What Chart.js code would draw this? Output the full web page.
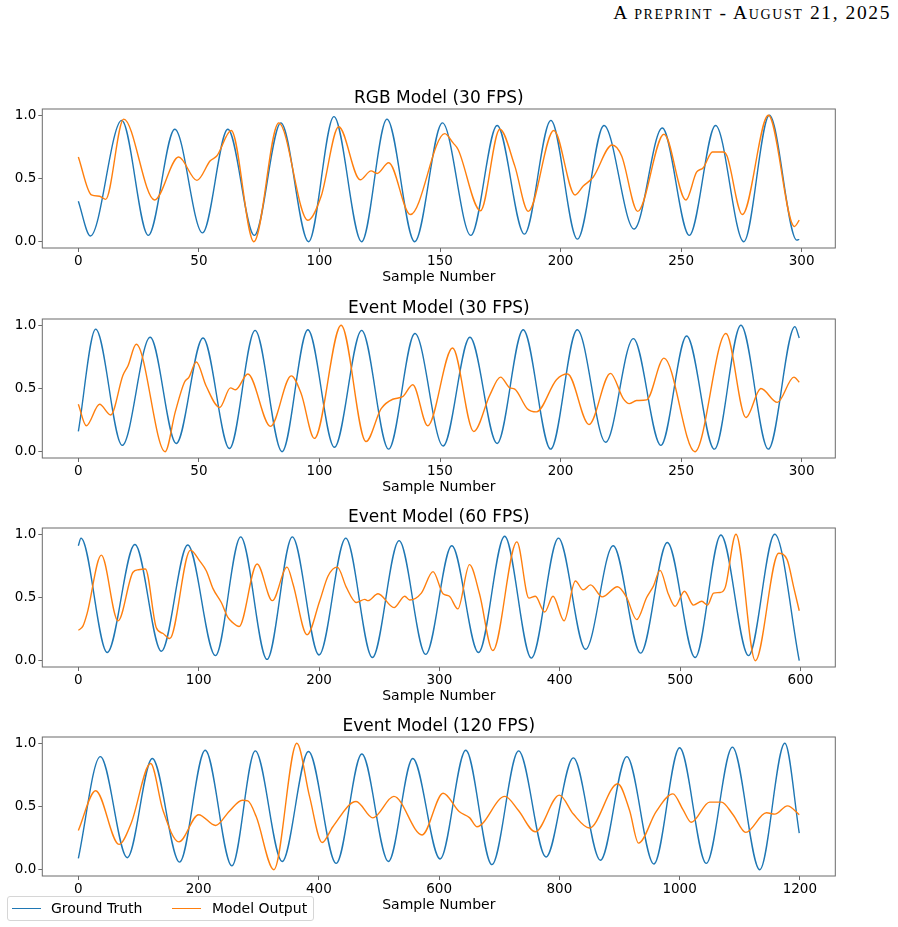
<!DOCTYPE html>
<html>
<head>
<meta charset="utf-8">
<title>Ground truth vs model output</title>
<script src="https://cdn.jsdelivr.net/npm/chart.js@4.4.1/dist/chart.umd.min.js"></script>
<style>
  body { margin: 0; background: #fff; }
  .page { position: relative; width: 898px; height: 927px; overflow: hidden; font-family: "DejaVu Sans", sans-serif; color: #000; }
  .panel { position: absolute; left: 0; width: 898px; height: 209px; }
  .running-head { position: absolute; right: 7px; top: 3px; font-family: "Liberation Serif", serif; font-variant: small-caps; font-size: 19.5px; line-height: 19px; letter-spacing: 1.6px; white-space: nowrap; }
  .legend { position: absolute; left: 7px; top: 896px; width: 305px; height: 23px; border: 1px solid #d6d6d6; border-radius: 3px; background: rgba(255,255,255,0.8); z-index: 5; font-size: 14px; }
  .legend .key { position: absolute; top: 11px; width: 29px; height: 0; border-top: 1.4px solid; }
  .legend .lbl { position: absolute; top: 3px; line-height: 17px; white-space: nowrap; }
</style>
</head>
<body>
<div class="page">
  <div class="running-head">A preprint - August 21, 2025</div>
  <canvas class="panel" id="chartRgb30" width="898" height="209" style="top:79.3px"></canvas>
  <canvas class="panel" id="chartEvent30" width="898" height="209" style="top:288.7px"></canvas>
  <canvas class="panel" id="chartEvent60" width="898" height="209" style="top:497.7px"></canvas>
  <canvas class="panel" id="chartEvent120" width="898" height="209" style="top:706.7px"></canvas>
  <div class="legend">
    <span class="key" style="left:4px;border-color:#1f77b4"></span><span class="lbl" style="left:43px">Ground Truth</span>
    <span class="key" style="left:164px;border-color:#ff7f0e"></span><span class="lbl" style="left:204px">Model Output</span>
  </div>
</div>
<script>
const TRUTH_COLOR = "#1f77b4";
const OUTPUT_COLOR = "#ff7f0e";
const SPINE = "#6b6b6b";

const yTicks = [0, 0.5, 1.0];
const xTicks300 = [0, 50, 100, 150, 200, 250, 300];
const xTicks600 = [0, 100, 200, 300, 400, 500, 600];
const xTicks1200 = [0, 200, 400, 600, 800, 1000, 1200];

// RGB model, 30 FPS (samples 0..299)
const rgb30TruthX = [0, 5, 18, 29, 40, 51.5, 62, 73, 84, 95.5, 106, 117.5, 128, 139.5, 151, 162.8, 173.7, 185, 196, 207, 218, 230.5, 242.2, 253.4, 264.3, 276, 286.6, 298, 299];
const rgb30TruthY = [0.32, 0.045, 0.96, 0.05, 0.89, 0.07, 0.89, 0.05, 0.94, 0.0, 0.99, 0.0, 0.97, 0.0, 0.94, 0.05, 0.92, 0.06, 0.96, 0.02, 0.92, 0.10, 0.90, 0.05, 0.92, 0.0, 1.0, 0.012, 0.018];
const rgb30OutX = [0, 5.4, 8.8, 11.3, 18.8, 31.6, 41.6, 49.2, 54.7, 57.5, 63.4, 72.8, 83.1, 95.2, 100.7, 108, 116.9, 121.4, 123.9, 128.7, 137.7, 152, 155.5, 157.5, 166.8, 174.8, 181, 186.6, 197.2, 206, 209.4, 213.5, 221.4, 225.3, 232, 242.9, 252, 256.4, 259.2, 263, 267.5, 269, 275.4, 286.2, 297, 299];
const rgb30OutY = [0.67, 0.37, 0.36, 0.335, 0.97, 0.33, 0.67, 0.485, 0.64, 0.68, 0.88, 0.0, 0.94, 0.17, 0.36, 0.91, 0.49, 0.56, 0.54, 0.625, 0.215, 0.855, 0.78, 0.73, 0.245, 0.89, 0.6, 0.24, 0.88, 0.37, 0.44, 0.51, 0.765, 0.68, 0.24, 0.85, 0.33, 0.55, 0.585, 0.71, 0.71, 0.68, 0.215, 1.0, 0.12, 0.17];

// Event model, 30 FPS (samples 0..299)
const ev30TruthX = [0, 7.2, 18.2, 29.8, 40.6, 51.7, 62.7, 73.3, 84.5, 95.2, 106.2, 117.5, 128.7, 139.6, 151.3, 162.4, 173.7, 184.5, 195.9, 206.9, 218.7, 230.2, 241.6, 252.3, 263.8, 274.8, 286.2, 297.2, 299];
const ev30TruthY = [0.16, 0.97, 0.05, 0.905, 0.065, 0.90, 0.025, 0.96, 0.0, 0.965, 0.035, 0.96, 0.02, 0.935, 0.045, 0.905, 0.065, 0.965, 0.02, 0.965, 0.075, 0.895, 0.05, 0.915, 0.02, 1.0, 0.02, 0.99, 0.90];
const ev30OutX = [0, 3.3, 8.8, 13.4, 18.5, 20.6, 24, 36, 40.2, 44, 45.9, 48.9, 53, 58.6, 63.1, 65.2, 70.3, 79.7, 88.3, 92.4, 97.9, 109, 119.3, 125.6, 130.4, 134.5, 138.7, 144.9, 155.2, 164, 170.7, 175.1, 179, 181, 186.2, 190, 198.3, 202.9, 211.8, 220.7, 226, 228.5, 231.5, 235.7, 242.9, 255.7, 268.6, 276.9, 283.1, 289.9, 296.8, 299];
const ev30OutY = [0.375, 0.205, 0.375, 0.29, 0.605, 0.68, 0.85, 0.0, 0.315, 0.55, 0.59, 0.71, 0.52, 0.35, 0.505, 0.49, 0.615, 0.2, 0.6, 0.46, 0.105, 1.0, 0.08, 0.34, 0.415, 0.435, 0.53, 0.205, 0.82, 0.16, 0.45, 0.59, 0.505, 0.495, 0.34, 0.315, 0.57, 0.615, 0.215, 0.62, 0.42, 0.38, 0.405, 0.41, 0.74, 0.0, 0.935, 0.27, 0.50, 0.39, 0.59, 0.55];

// Event model, 60 FPS (samples 0..599)
const ev60TruthX = [0, 2.2, 24, 47, 69, 90.9, 113.9, 134.9, 156.8, 177.8, 200, 222.2, 244.3, 266.5, 288.6, 310.3, 332.5, 354.2, 376.4, 398.9, 421.4, 444.4, 467.2, 489.4, 512.5, 533.9, 556.9, 578.6, 599];
const ev60TruthY = [0.91, 0.97, 0.065, 0.92, 0.075, 0.915, 0.04, 0.98, 0.01, 0.98, 0.045, 0.97, 0.025, 0.95, 0.05, 0.91, 0.065, 0.985, 0.02, 0.97, 0.09, 0.91, 0.06, 0.935, 0.025, 0.995, 0.04, 1.0, 0.0];
const ev60OutX = [0, 3.9, 7.2, 19.1, 33, 45.4, 50, 55.7, 64.8, 70.4, 75.9, 93.1, 100.8, 106.4, 111.9, 118.8, 124.4, 128.5, 133.5, 148.5, 161.2, 173.4, 178.4, 190, 200.6, 207.5, 215.2, 222.7, 231, 238, 240.7, 249, 262.3, 271.2, 275.3, 285, 294.7, 303, 308.3, 315.3, 325, 333.3, 344.4, 364.4, 374.4, 379.7, 387.5, 394.4, 403.6, 413, 419.4, 425.6, 435.3, 448, 455.6, 463.9, 472.2, 477.8, 483.3, 490.3, 495.8, 503.6, 511.1, 518, 522.8, 527.8, 533.3, 537.5, 546.4, 562.5, 581.9, 588.9, 594.4, 599];
const ev60OutY = [0.24, 0.275, 0.37, 0.835, 0.315, 0.70, 0.72, 0.725, 0.26, 0.215, 0.175, 0.875, 0.79, 0.71, 0.57, 0.46, 0.34, 0.30, 0.27, 0.765, 0.475, 0.74, 0.605, 0.205, 0.475, 0.67, 0.74, 0.58, 0.46, 0.485, 0.475, 0.53, 0.42, 0.51, 0.48, 0.535, 0.705, 0.53, 0.51, 0.41, 0.76, 0.53, 0.08, 0.94, 0.495, 0.51, 0.385, 0.51, 0.315, 0.63, 0.56, 0.60, 0.505, 0.585, 0.50, 0.325, 0.50, 0.59, 0.715, 0.525, 0.43, 0.55, 0.44, 0.47, 0.44, 0.535, 0.54, 0.58, 1.0, 0.0, 0.85, 0.80, 0.58, 0.395];

// Event model, 120 FPS (samples 0..1199)
const ev120TruthX = [0, 36.6, 81.4, 123, 168.4, 211, 255.4, 294.2, 339, 382.8, 428.8, 471.5, 515.8, 556.2, 601.7, 644.4, 687.8, 732.2, 777.8, 823.3, 868.3, 912.2, 957.2, 1000, 1044.4, 1087.8, 1133.3, 1175, 1199];
const ev120TruthY = [0.09, 0.895, 0.095, 0.88, 0.06, 0.945, 0.03, 0.94, 0.065, 0.935, 0.05, 0.915, 0.065, 0.88, 0.085, 0.945, 0.04, 0.94, 0.10, 0.885, 0.075, 0.895, 0.045, 0.965, 0.05, 0.97, 0.0, 1.0, 0.29];
const ev120OutX = [0, 28.8, 67.6, 88, 120.2, 140.7, 167.3, 200, 228.3, 251.5, 272.6, 282, 295.8, 325.2, 363.4, 384.5, 405.5, 423.3, 462, 489.8, 524.7, 571.7, 606.7, 633.3, 651, 662.8, 709.4, 731.7, 760, 800, 823.3, 850, 897.2, 916.7, 931.7, 961, 988.9, 1005.6, 1019.4, 1050, 1069.4, 1088.9, 1110, 1144.4, 1158.3, 1179.4, 1199];
const ev120OutY = [0.31, 0.625, 0.20, 0.37, 0.84, 0.47, 0.22, 0.435, 0.35, 0.465, 0.55, 0.545, 0.42, 0.0, 1.0, 0.58, 0.215, 0.34, 0.54, 0.41, 0.58, 0.275, 0.605, 0.46, 0.41, 0.34, 0.58, 0.47, 0.30, 0.59, 0.44, 0.33, 0.68, 0.47, 0.21, 0.46, 0.60, 0.475, 0.375, 0.535, 0.535, 0.435, 0.295, 0.45, 0.44, 0.505, 0.435];

function toPoints(xs, ys) {
  return xs.map((x, i) => ({ x, y: ys[i] }));
}

function lineSet(label, xs, ys, color, order) {
  return {
    label,
    data: toPoints(xs, ys),
    borderColor: color,
    borderWidth: 1.4,
    pointRadius: 0,
    fill: false,
    cubicInterpolationMode: "monotone",
    order,
  };
}

// matplotlib-style box around the axes
const framePlugin = {
  id: "frame",
  afterDraw(chart) {
    const { ctx, chartArea: a } = chart;
    ctx.save();
    ctx.strokeStyle = SPINE;
    ctx.lineWidth = 1;
    ctx.strokeRect(a.left, a.top, a.right - a.left, a.bottom - a.top);
    ctx.restore();
  },
};

function drawPanel(id, title, xMax, xTicks, truthX, truthY, outX, outY) {
  const margin = xMax * 0.05;
  return new Chart(document.getElementById(id), {
    type: "line",
    data: {
      datasets: [
        lineSet("Ground Truth", truthX, truthY, TRUTH_COLOR, 1),
        lineSet("Model Output", outX, outY, OUTPUT_COLOR, 0),
      ],
    },
    options: {
      responsive: false,
      animation: false,
      layout: { padding: { top: 9.6, right: 62.7, left: 0, bottom: 0 } },
      plugins: {
        legend: { display: false },
        tooltip: { enabled: false },
        title: {
          display: true,
          text: title,
          fullSize: false,
          color: "#000",
          font: { family: "DejaVu Sans", size: 17, weight: "normal" },
          padding: { top: 0, bottom: 0 },
        },
      },
      scales: {
        x: {
          type: "linear",
          min: -margin,
          max: xMax + margin,
          afterBuildTicks: (s) => { s.ticks = xTicks.map((v) => ({ value: v })); },
          afterFit: (s) => { s.height = 40; },
          ticks: { color: "#000", font: { family: "DejaVu Sans", size: 13.5 }, padding: 1, maxRotation: 0, callback: (v) => String(v) },
          grid: { display: true, drawOnChartArea: false, drawTicks: true, tickLength: 4, color: SPINE },
          border: { display: false },
          title: { display: true, text: "Sample Number", color: "#000", font: { family: "DejaVu Sans", size: 14 }, padding: { top: 0, bottom: 2 } },
        },
        y: {
          min: -0.05,
          max: 1.05,
          afterBuildTicks: (s) => { s.ticks = yTicks.map((v) => ({ value: v })); },
          afterFit: (s) => { s.width = 42.3; },
          ticks: { color: "#000", font: { family: "DejaVu Sans", size: 13.5 }, padding: 2, callback: (v) => v.toFixed(1) },
          grid: { display: true, drawOnChartArea: false, drawTicks: true, tickLength: 4, color: SPINE },
          border: { display: false },
        },
      },
    },
    plugins: [framePlugin],
  });
}

drawPanel("chartRgb30", "RGB Model (30 FPS)", 299, xTicks300, rgb30TruthX, rgb30TruthY, rgb30OutX, rgb30OutY);
drawPanel("chartEvent30", "Event Model (30 FPS)", 299, xTicks300, ev30TruthX, ev30TruthY, ev30OutX, ev30OutY);
drawPanel("chartEvent60", "Event Model (60 FPS)", 599, xTicks600, ev60TruthX, ev60TruthY, ev60OutX, ev60OutY);
drawPanel("chartEvent120", "Event Model (120 FPS)", 1199, xTicks1200, ev120TruthX, ev120TruthY, ev120OutX, ev120OutY);
</script>
</body>
</html>
